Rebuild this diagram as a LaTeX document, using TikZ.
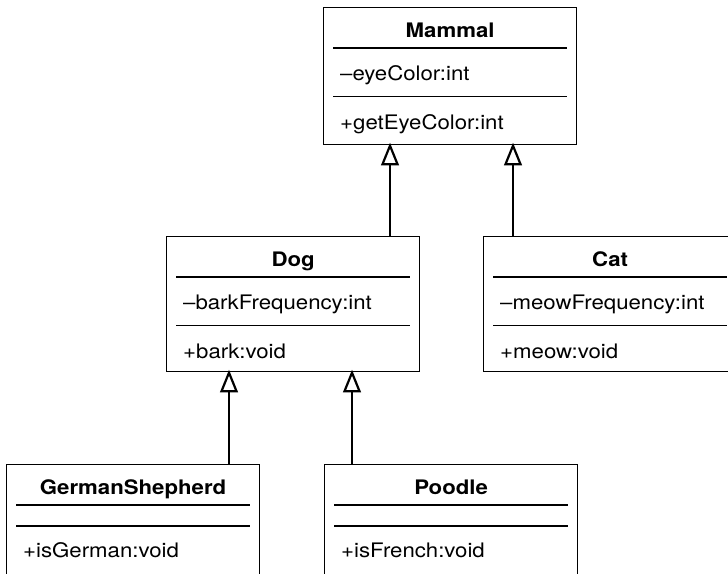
\documentclass[tikz,border=0pt]{standalone}
\usepackage{fontspec}
\setmainfont[FakeStretch=1.11]{TeX Gyre Heros}
\usetikzlibrary{calc}
\tikzset{
  umlbox/.style={draw=black, line width=1.2pt, fill=white, minimum width=253pt, inner sep=0pt, anchor=north west},
  umlsep/.style={draw=black, line width=1.2pt},
  umltitle/.style={inner sep=0pt, anchor=base, font=\fontsize{20}{23}\selectfont\bfseries},
  umltext/.style={inner sep=0pt, anchor=base west, font=\fontsize{20}{23}\selectfont},
  inherit/.style={draw=black, line width=1.1pt},
  openhead/.style={draw=black, line width=2.2pt, fill=white, line join=miter}
}
\newcommand{\umlclass}[7]{%
  \node[umlbox, minimum height=#7pt] (#1) at (#2,#3) {};
  \node[umltitle] (#1-t) at ($(#1.north)+(0,30.5)$) {#4};
  \draw[umlsep] ($(#1.north west)+(10,41)$) -- ($(#1.north east)+(-10,41)$);
  \node[umltext] (#1-a) at ($(#1.north west)+(17,73.5)$) {#5};
  \draw[umlsep] ($(#1.north west)+(10,89.5)$) -- ($(#1.north east)+(-10,89.5)$);
  \node[umltext] (#1-m) at ($(#1.north west)+(17,122.5)$) {#6};
}
\newcommand{\umlclassnoattr}[5]{%
  \node[umlbox, minimum height=#5pt] (#1) at (#2,#3) {};
  \node[umltitle] (#1-t) at ($(#1.north)+(0,30.5)$) {#4};
  \draw[umlsep] ($(#1.north west)+(10,41)$) -- ($(#1.north east)+(-10,41)$);
  \draw[umlsep] ($(#1.north west)+(10,62)$) -- ($(#1.north east)+(-10,62)$);
}
% child, parent, x-coordinate
\newcommand{\inheritance}[3]{%
  \draw[inherit] (#1.north -| #3) -- ($(#2.south -| #3)+(0,19)$);
  \draw[openhead] ($(#2.south -| #3)+(0,0.5)$) -- ++(-7.5,18.5) -- ++(15,0) -- cycle;
}
\begin{document}
\begin{tikzpicture}[x=1pt,y=-1pt]
\useasboundingbox (0,0) rectangle (728,573);
\clip (0,0) rectangle (728,573);
\umlclass{mammal}{323}{7}{Mammal}{–eyeColor:int}{+getEyeColor:int}{137}
\umlclass{dog}{166}{236}{Dog}{–barkFrequency:int}{+bark:void}{135}
\umlclass{cat}{483}{236}{Cat}{–meowFrequency:int}{+meow:void}{135}
\umlclassnoattr{gs}{6}{464}{GermanShepherd}{150}
\node[umltext] (gs-m) at ($(gs.north west)+(17,93)$) {+isGerman:void};
\umlclassnoattr{poodle}{324}{464}{Poodle}{150}
\node[umltext] (poodle-m) at ($(poodle.north west)+(17,93)$) {+isFrench:void};
\coordinate (xdog) at (390,0);
\coordinate (xcat) at (513,0);
\coordinate (xgs) at (229,0);
\coordinate (xpoodle) at (352,0);
\inheritance{dog}{mammal}{xdog}
\inheritance{cat}{mammal}{xcat}
\inheritance{gs}{dog}{xgs}
\inheritance{poodle}{dog}{xpoodle}
\end{tikzpicture}
\end{document}
